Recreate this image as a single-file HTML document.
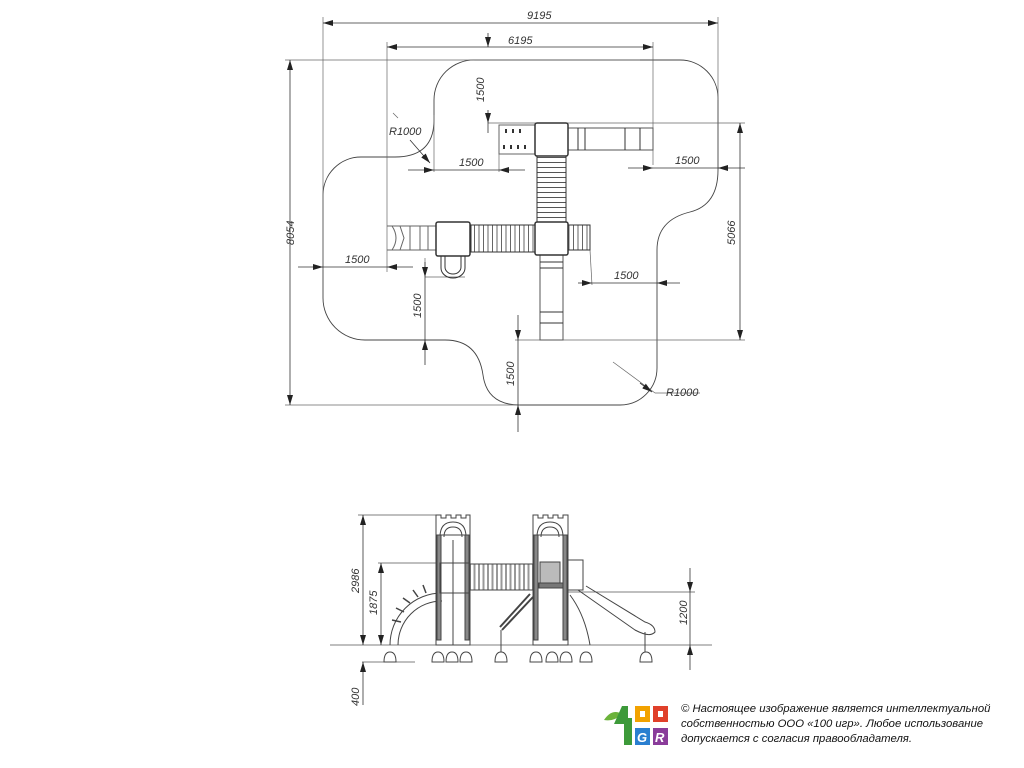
<!DOCTYPE html>
<html><head><meta charset="utf-8"><style>
html,body{margin:0;padding:0;background:#fff;}
svg{display:block;}
text{font-family:"Liberation Sans",sans-serif;font-style:italic;fill:#333;}
</style></head><body>
<svg width="1024" height="768" viewBox="0 0 1024 768" xmlns="http://www.w3.org/2000/svg">
<defs>
<marker id="a" markerWidth="10" markerHeight="6" refX="10" refY="3" orient="auto-start-reverse" markerUnits="userSpaceOnUse"><path d="M0,0 L10,3 L0,6 Z" fill="#222"/></marker>
<pattern id="rungs" width="40" height="5" patternUnits="userSpaceOnUse"><line x1="0" y1="2.5" x2="40" y2="2.5" stroke="#555" stroke-width="0.9"/></pattern>
<pattern id="ribs" width="4.5" height="40" patternUnits="userSpaceOnUse"><line x1="2" y1="0" x2="2" y2="40" stroke="#555" stroke-width="0.9"/></pattern>
<pattern id="ribs2" width="4.5" height="40" patternUnits="userSpaceOnUse"><rect x="1" y="0" width="2" height="40" fill="#999"/></pattern>
</defs>
<g fill="none" stroke="#444" stroke-width="0.9">
<path d="M475 60 L680 60 A38 38 0 0 1 718 98 L718 170 Q718 205 690 212 Q657 220 657 250 L657 368 A37 37 0 0 1 620 405 L520 405 Q487 405 483 375 Q478 340 445 340 L365 340 A42 42 0 0 1 323 298 L323 195 A38 38 0 0 1 361 157 L395 157 Q434 157 434 120 L434 100 A40 40 0 0 1 475 60 Z"/>
<g stroke="#666" stroke-width="0.7">
<line x1="323" y1="17" x2="323" y2="270"/><line x1="718" y1="17" x2="718" y2="100"/>
<line x1="387" y1="42" x2="387" y2="272"/><line x1="653" y1="42" x2="653" y2="165"/>
<line x1="285" y1="60" x2="640" y2="60"/><line x1="285" y1="405" x2="520" y2="405"/>
<line x1="488" y1="123" x2="745" y2="123"/><line x1="515" y1="340" x2="745" y2="340"/>
<line x1="434" y1="115" x2="434" y2="172"/><line x1="499" y1="150" x2="499" y2="172"/>
<line x1="425" y1="258" x2="425" y2="270"/><line x1="425" y1="277" x2="465" y2="277"/>
<line x1="590" y1="250" x2="592" y2="285"/>
<line x1="393" y1="113" x2="398" y2="118"/>
<line x1="613" y1="362" x2="655" y2="393"/><line x1="655" y1="393" x2="700" y2="393"/>
</g>
<g stroke="#333" stroke-width="0.8">
<line x1="323" y1="23" x2="718" y2="23" marker-start="url(#a)" marker-end="url(#a)"/>
<line x1="387" y1="47" x2="653" y2="47" marker-start="url(#a)" marker-end="url(#a)"/>
<line x1="290" y1="60" x2="290" y2="405" marker-start="url(#a)" marker-end="url(#a)"/>
<line x1="740" y1="123" x2="740" y2="340" marker-start="url(#a)" marker-end="url(#a)"/>
<line x1="488" y1="33" x2="488" y2="47" marker-end="url(#a)"/>
<line x1="488" y1="133" x2="488" y2="123" />
<line x1="488" y1="110" x2="488" y2="123" marker-end="url(#a)"/>
<line x1="408" y1="170" x2="434" y2="170" marker-end="url(#a)"/>
<line x1="434" y1="170" x2="499" y2="170"/>
<line x1="525" y1="170" x2="499" y2="170" marker-end="url(#a)"/>
<line x1="410" y1="140" x2="430" y2="163" marker-end="url(#a)"/>
<line x1="628" y1="168" x2="653" y2="168" marker-end="url(#a)"/>
<line x1="653" y1="168" x2="718" y2="168"/>
<line x1="745" y1="168" x2="718" y2="168" marker-end="url(#a)"/>
<line x1="298" y1="267" x2="323" y2="267" marker-end="url(#a)"/>
<line x1="323" y1="267" x2="387" y2="267"/>
<line x1="413" y1="267" x2="387" y2="267" marker-end="url(#a)"/>
<line x1="425" y1="262" x2="425" y2="277" marker-end="url(#a)"/>
<line x1="425" y1="277" x2="425" y2="340"/>
<line x1="425" y1="365" x2="425" y2="340" marker-end="url(#a)"/>
<line x1="578" y1="283" x2="592" y2="283" marker-end="url(#a)"/>
<line x1="592" y1="283" x2="657" y2="283"/>
<line x1="680" y1="283" x2="657" y2="283" marker-end="url(#a)"/>
<line x1="518" y1="315" x2="518" y2="340" marker-end="url(#a)"/>
<line x1="518" y1="340" x2="518" y2="405"/>
<line x1="518" y1="432" x2="518" y2="405" marker-end="url(#a)"/>
<line x1="640" y1="383" x2="652" y2="392" marker-end="url(#a)"/>
</g>
<g stroke="#333" stroke-width="1">
<rect x="499" y="125" width="36" height="29" stroke="#666"/>
<rect x="568" y="128" width="85" height="22" stroke="#555"/>
<line x1="578" y1="128" x2="578" y2="150"/><line x1="585" y1="128" x2="585" y2="150"/><line x1="625" y1="128" x2="625" y2="150"/><line x1="640" y1="128" x2="640" y2="150"/>
<rect x="537" y="156" width="29" height="66" fill="url(#rungs)"/>
<rect x="471" y="225" width="64" height="27" fill="url(#ribs)"/>
<rect x="568" y="225" width="22" height="25" fill="url(#ribs)"/>
<rect x="540" y="255" width="23" height="85" stroke="#555"/>
<line x1="540" y1="262" x2="563" y2="262"/><line x1="540" y1="268" x2="563" y2="268"/><line x1="540" y1="312" x2="563" y2="312"/><line x1="540" y1="323" x2="563" y2="323"/>
<path d="M387 226 L436 226 M387 250 L436 250 M392 226 Q400 238 392 250 M400 226 L404 238 L400 250 M410 226 L410 250 M420 226 L420 250 M428 226 L428 250" stroke="#666"/>
<path d="M441 256 L441 268 A12 10 0 0 0 465 268 L465 256 M445 256 L445 267 A8 7 0 0 0 461 267 L461 256"/>
<rect x="535" y="123" width="33" height="33" stroke-width="1.5" rx="2"/>
<rect x="535" y="222" width="33" height="33" stroke-width="1.5" rx="2"/>
<rect x="436" y="222" width="34" height="34" stroke-width="1.5" rx="2"/>
</g>
<g fill="#333" stroke="none">
<rect x="505" y="129" width="2" height="4"/><rect x="512" y="129" width="2" height="4"/><rect x="519" y="129" width="2" height="4"/>
<rect x="503" y="145" width="2" height="4"/><rect x="510" y="145" width="2" height="4"/><rect x="517" y="145" width="2" height="4"/><rect x="524" y="145" width="2" height="4"/>
</g>
<g stroke="#555" stroke-width="0.7">
<line x1="330" y1="645" x2="712" y2="645"/>
<line x1="362" y1="662" x2="415" y2="662"/>
<line x1="358" y1="515" x2="440" y2="515"/>
<line x1="378" y1="563" x2="440" y2="563"/>
<line x1="568" y1="592" x2="695" y2="592"/>
</g>
<g stroke="#333" stroke-width="0.8">
<line x1="363" y1="515" x2="363" y2="645" marker-start="url(#a)" marker-end="url(#a)"/>
<line x1="381" y1="563" x2="381" y2="645" marker-start="url(#a)" marker-end="url(#a)"/>
<line x1="690" y1="568" x2="690" y2="592" marker-end="url(#a)"/>
<line x1="690" y1="592" x2="690" y2="645"/>
<line x1="690" y1="670" x2="690" y2="645" marker-end="url(#a)"/>
<line x1="363" y1="705" x2="363" y2="662" marker-end="url(#a)"/>
</g>
<g stroke="#444" stroke-width="1">
<path d="M390 645 A52 52 0 0 1 442 593 M398 645 A44 44 0 0 1 442 601"/>
<path d="M401 622 L392 620 M404 612 L396 608 M410 603 L403 598 M418 597 L413 590 M426 593 L423 585" stroke-width="1.5"/>
<!-- tower A -->
<path d="M436 535 L436 515 L441 515 L441 518 L446 518 L446 515 L451 515 L451 518 L456 518 L456 515 L461 515 L461 518 L466 518 L466 515 L470 515 L470 535"/>
<path d="M440 537 Q440 522 453 522 Q466 522 466 537 M444 537 Q444 527 453 527 Q462 527 462 537"/>
<rect x="436" y="535" width="34" height="110"/>
<rect x="437" y="535" width="4" height="105" fill="#888"/><rect x="465" y="535" width="4" height="105" fill="#888"/>
<line x1="453" y1="540" x2="453" y2="645"/>
<rect x="440" y="563" width="30" height="30"/>
<rect x="470" y="564" width="63" height="26" fill="url(#ribs2)"/>
<!-- tower B -->
<path d="M533 535 L533 515 L538 515 L538 518 L543 518 L543 515 L548 515 L548 518 L553 518 L553 515 L558 515 L558 518 L563 518 L563 515 L568 515 L568 535"/>
<path d="M537 537 Q537 522 550 522 Q563 522 563 537 M541 537 Q541 527 550 527 Q559 527 559 537"/>
<rect x="533" y="535" width="35" height="110"/>
<rect x="534" y="535" width="4" height="105" fill="#888"/><rect x="563" y="535" width="4" height="105" fill="#888"/>
<rect x="540" y="562" width="20" height="22" fill="#bbb"/>
<rect x="539" y="583" width="24" height="5" fill="#777"/>
<rect x="568" y="560" width="15" height="30"/>
<path d="M500 627 L530 594 M502 630 L533 597" stroke-width="2"/>
<line x1="501" y1="630" x2="501" y2="656"/>
<path d="M578 590 L635 630 Q650 638 655 632 Q655 625 645 622 L586 586"/>
<line x1="645" y1="632" x2="645" y2="656"/>
<path d="M570 595 Q585 615 590 645"/>
<g fill="#fff">
<path d="M384 662 Q384 652 390 652 Q396 652 396 662 Z"/>
<path d="M432 662 Q432 652 438 652 Q444 652 444 662 Z"/>
<path d="M446 662 Q446 652 452 652 Q458 652 458 662 Z"/>
<path d="M460 662 Q460 652 466 652 Q472 652 472 662 Z"/>
<path d="M495 662 Q495 652 501 652 Q507 652 507 662 Z"/>
<path d="M530 662 Q530 652 536 652 Q542 652 542 662 Z"/>
<path d="M546 662 Q546 652 552 652 Q558 652 558 662 Z"/>
<path d="M560 662 Q560 652 566 652 Q572 652 572 662 Z"/>
<path d="M580 662 Q580 652 586 652 Q592 652 592 662 Z"/>
<path d="M640 662 Q640 652 646 652 Q652 652 652 662 Z"/>
</g>
</g>
</g>
<g font-size="11">
<text x="527" y="19">9195</text>
<text x="508" y="44">6195</text>
<text x="459" y="166">1500</text>
<text x="675" y="164">1500</text>
<text x="345" y="263">1500</text>
<text x="614" y="279">1500</text>
<text x="389" y="135">R1000</text>
<text x="666" y="396">R1000</text>
<text transform="translate(294,245) rotate(-90)">8054</text>
<text transform="translate(735,245) rotate(-90)">5066</text>
<text transform="translate(484,102) rotate(-90)">1500</text>
<text transform="translate(421,318) rotate(-90)">1500</text>
<text transform="translate(514,386) rotate(-90)">1500</text>
<text transform="translate(359,593) rotate(-90)">2986</text>
<text transform="translate(377,615) rotate(-90)">1875</text>
<text transform="translate(687,625) rotate(-90)">1200</text>
<text transform="translate(359,706) rotate(-90)">400</text>
</g>
<g>
<path d="M604 720 Q612 708 622 714 Q614 722 604 720 Z" fill="#6bb33a"/>
<path d="M622 706 L628 706 L628 718 L632 718 L632 745 L624 745 L624 724 L614 724 Z" fill="#3d9a3a"/>
<rect x="635" y="706" width="15" height="16" fill="#f2a200"/><rect x="640" y="711" width="5" height="6" fill="#fff"/>
<rect x="653" y="706" width="15" height="16" fill="#e0402a"/><rect x="658" y="711" width="5" height="6" fill="#fff"/>
<rect x="635" y="728" width="15" height="17" fill="#2a7fd0"/>
<rect x="653" y="728" width="15" height="17" fill="#8a3c9a"/>
<text x="637" y="742" font-size="13" font-style="normal" font-weight="bold" style="fill:#fff">G</text>
<text x="655" y="742" font-size="13" font-style="normal" font-weight="bold" style="fill:#fff">R</text>
</g>
<g font-size="11.3">
<text x="681" y="712" style="fill:#111">© Настоящее изображение является интеллектуальной</text>
<text x="681" y="727" style="fill:#111">собственностью ООО «100 игр».  Любое использование</text>
<text x="681" y="742" style="fill:#111">допускается с согласия правообладателя.</text>
</g>
</svg>
</body></html>
